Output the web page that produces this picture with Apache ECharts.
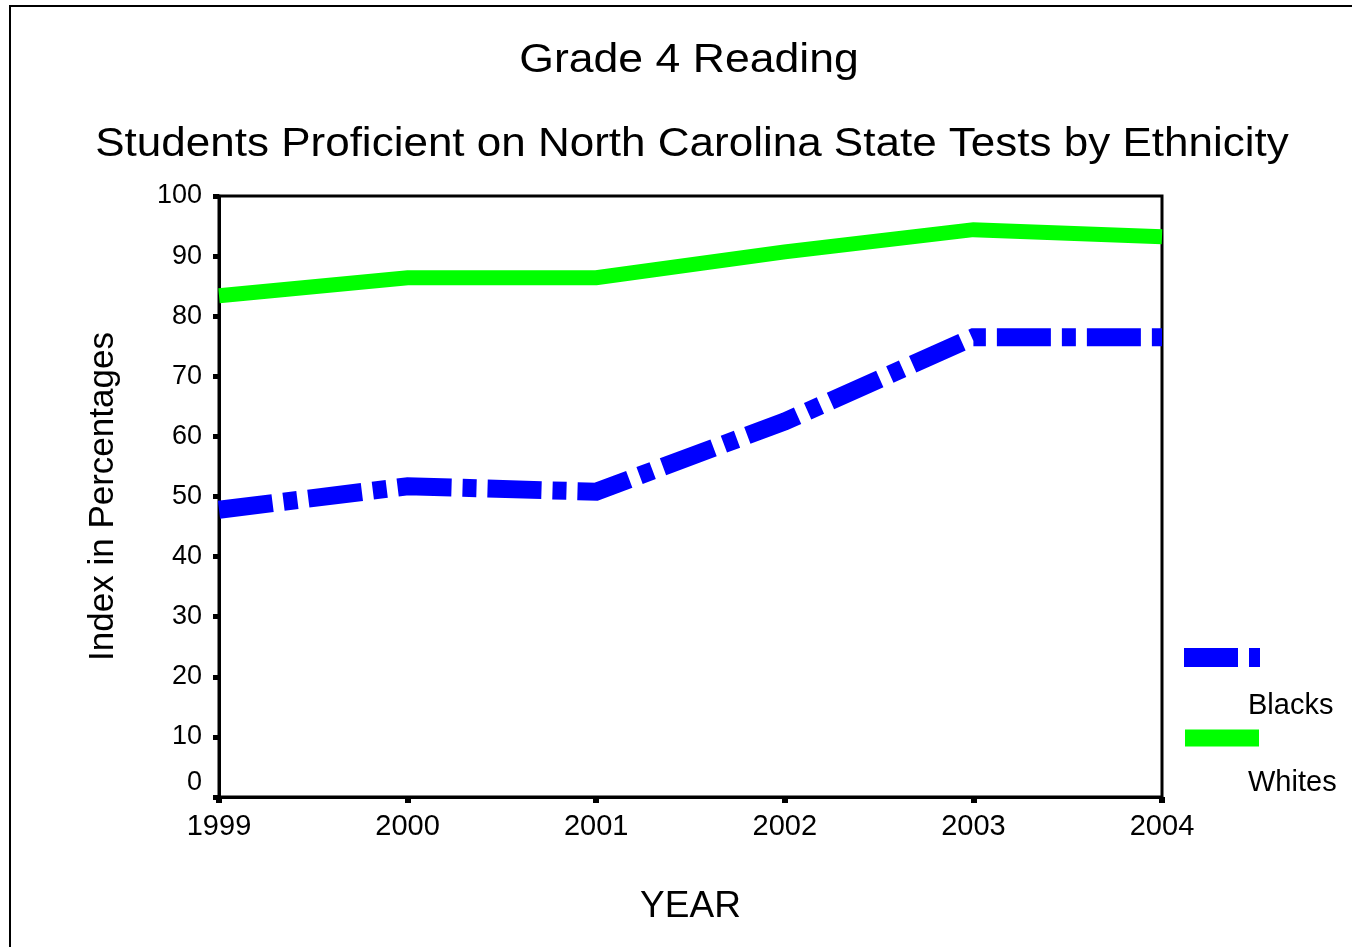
<!DOCTYPE html>
<html>
<head>
<meta charset="utf-8">
<title>Grade 4 Reading</title>
<script src="https://cdn.jsdelivr.net/npm/echarts@6/dist/echarts.min.js"></script>
<style>
  html, body { margin: 0; padding: 0; background: #ffffff; }
  #chart { width: 1352px; height: 947px; }
</style>
</head>
<body>
<div id="chart"></div>
<script>
// Test years and percent of students proficient
const years = ['1999', '2000', '2001', '2002', '2003', '2004'];
const blacks = [47.8, 51.7, 50.8, 62.5, 76.5, 76.5];
const whites = [83.4, 86.4, 86.4, 90.7, 94.4, 93.2];
const seriesNames = ['Blacks', 'Whites'];
const titleText = 'Grade 4 Reading';
const subtitleText = 'Students Proficient on North Carolina State Tests by Ethnicity';

const FONT = '"Liberation Sans", Arial, sans-serif';
const BLUE = '#0000ff';
const GREEN = '#00ff00';
const DASH = [54, 11, 14, 11];

const chart = echarts.init(document.getElementById('chart'), null, { renderer: 'canvas' });

chart.setOption({
  backgroundColor: '#ffffff',
  animation: false,
  grid: {
    left: 219, top: 196, width: 943, height: 601,
    show: true, borderColor: '#000', borderWidth: 3, backgroundColor: 'transparent'
  },
  xAxis: {
    type: 'category',
    data: years,
    boundaryGap: false,
    name: 'YEAR',
    nameLocation: 'middle',
    nameGap: 91,
    nameTextStyle: { fontFamily: FONT, fontSize: 37, color: '#000' },
    axisLine: { lineStyle: { color: '#000', width: 3 } },
    axisTick: { alignWithLabel: true, length: 6, lineStyle: { color: '#000', width: 6 } },
    axisLabel: { margin: 15, fontFamily: FONT, fontSize: 29, color: '#000' },
    splitLine: { show: false }
  },
  yAxis: {
    type: 'value',
    min: 0, max: 100, interval: 10,
    name: 'Index in Percentages',
    nameLocation: 'middle',
    nameGap: 98,
    nameTextStyle: { fontFamily: FONT, fontSize: 35, color: '#000' },
    axisLine: { show: true, lineStyle: { color: '#000', width: 3 } },
    axisTick: { show: true, length: 6, lineStyle: { color: '#000', width: 5 } },
    axisLabel: {
      margin: 17, fontFamily: FONT, fontSize: 27, color: '#000',
      formatter: function (v) { return v === 0 ? '{z|0}' : String(v); },
      rich: { z: { fontFamily: FONT, fontSize: 27, color: '#000', padding: [0, 0, 28, 0] } }
    },
    splitLine: { show: false }
  },
  series: [
    {
      name: seriesNames[0],
      type: 'line',
      data: blacks,
      symbol: 'none',
      lineStyle: { color: BLUE, width: 18, type: DASH, cap: 'butt', join: 'miter' },
      z: 3
    },
    {
      name: seriesNames[1],
      type: 'line',
      data: whites,
      symbol: 'none',
      lineStyle: { color: GREEN, width: 15, type: 'solid', cap: 'butt', join: 'miter' },
      z: 3
    }
  ],
  graphic: [
    // outer frame
    {
      type: 'rect', silent: true,
      shape: { x: 10, y: 6, width: 1400, height: 1000 },
      style: { fill: 'none', stroke: '#000', lineWidth: 2 }
    },
    // headings (slightly wide lettering)
    {
      type: 'text', silent: true, x: 689, y: 61, scaleX: 1.087, scaleY: 1,
      style: { text: titleText, font: '41px ' + FONT, fill: '#000', align: 'center', verticalAlign: 'middle' }
    },
    {
      type: 'text', silent: true, x: 692, y: 145, scaleX: 1.1, scaleY: 1,
      style: { text: subtitleText, font: '40px ' + FONT, fill: '#000', align: 'center', verticalAlign: 'middle' }
    },
    // legend samples and labels
    {
      type: 'line', silent: true,
      shape: { x1: 1184, y1: 657.5, x2: 1260, y2: 657.5 },
      style: { stroke: BLUE, lineWidth: 19, lineDash: DASH, lineCap: 'butt' }
    },
    {
      type: 'text', silent: true, x: 1248, y: 706,
      style: { text: seriesNames[0], font: '29px ' + FONT, fill: '#000', verticalAlign: 'middle', align: 'left' }
    },
    {
      type: 'line', silent: true,
      shape: { x1: 1185, y1: 738, x2: 1259, y2: 738 },
      style: { stroke: GREEN, lineWidth: 17, lineCap: 'butt' }
    },
    {
      type: 'text', silent: true, x: 1248, y: 783,
      style: { text: seriesNames[1], font: '29px ' + FONT, fill: '#000', verticalAlign: 'middle', align: 'left' }
    }
  ]
});
</script>
</body>
</html>
